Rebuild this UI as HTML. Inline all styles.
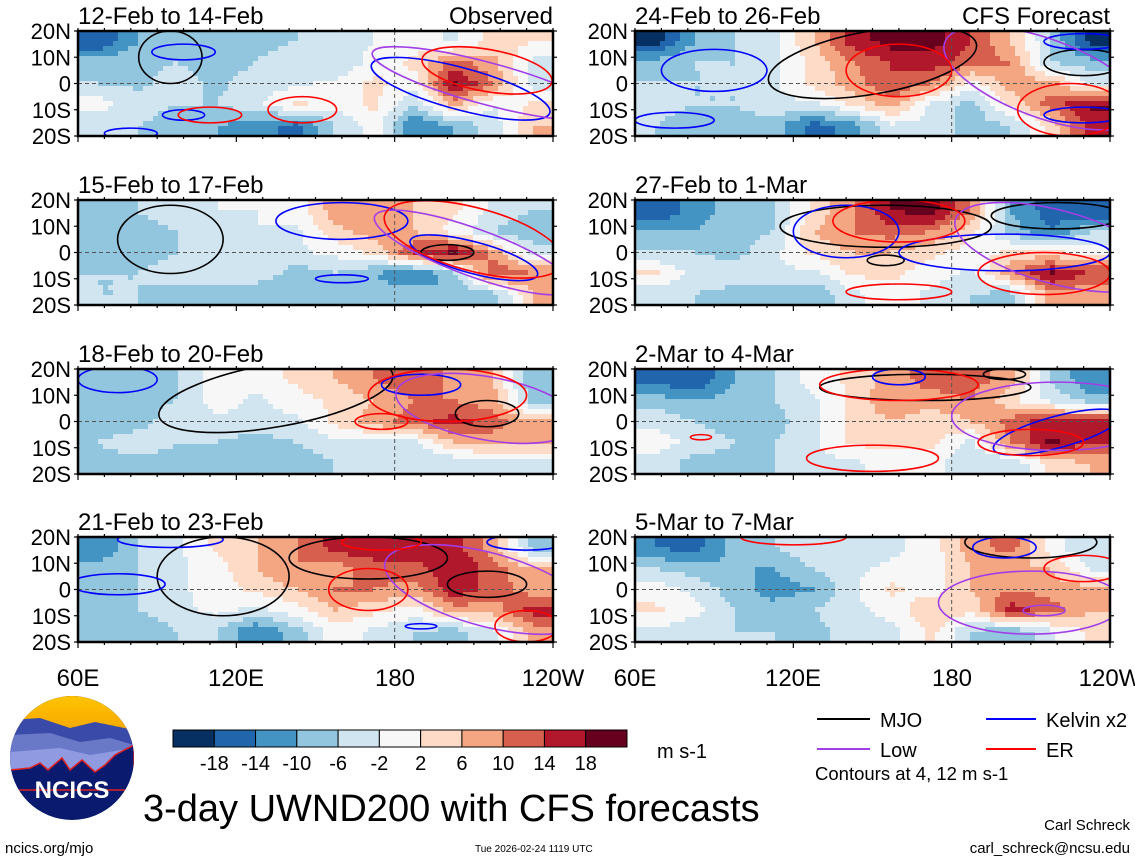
<!DOCTYPE html>
<html><head><meta charset="utf-8"><style>
html,body{margin:0;padding:0;background:#fff;}
svg{display:block;font-family:"Liberation Sans",sans-serif;}
</style></head><body>
<svg id="chart" width="1135" height="860" viewBox="0 0 1135 860">
<defs>
  <clipPath id="logoclip"><circle cx="72" cy="758" r="62"/></clipPath>
  <linearGradient id="sky" x1="0" y1="0" x2="0" y2="1"><stop offset="0" stop-color="#ffc400"/><stop offset="1" stop-color="#f5a000"/></linearGradient>
</defs>
<g id="panels"></g>
<g id="bottom">
  <text x="78" y="686" font-size="24" text-anchor="middle">60E</text>
  <text x="236" y="686" font-size="24" text-anchor="middle">120E</text>
  <text x="395" y="686" font-size="24" text-anchor="middle">180</text>
  <text x="553" y="686" font-size="24" text-anchor="middle">120W</text>
  <text x="635" y="686" font-size="24" text-anchor="middle">60E</text>
  <text x="793" y="686" font-size="24" text-anchor="middle">120E</text>
  <text x="952" y="686" font-size="24" text-anchor="middle">180</text>
  <text x="1110" y="686" font-size="24" text-anchor="middle">120W</text>
  <g id="cbar"></g>
  <text x="657" y="758" font-size="20">m s-1</text>
  <g>
    <line x1="817" y1="719" x2="870" y2="719" stroke="#000" stroke-width="2"/>
    <text x="880" y="727" font-size="20">MJO</text>
    <line x1="817" y1="749" x2="870" y2="749" stroke="#a23ee8" stroke-width="2"/>
    <text x="880" y="757" font-size="20">Low</text>
    <line x1="986" y1="719" x2="1036" y2="719" stroke="#0000ff" stroke-width="2"/>
    <text x="1046" y="727" font-size="20">Kelvin x2</text>
    <line x1="986" y1="749" x2="1036" y2="749" stroke="#ff0000" stroke-width="2"/>
    <text x="1046" y="757" font-size="20">ER</text>
  </g>
  <text x="815" y="780" font-size="18.5">Contours at 4, 12 m s-1</text>
  <text x="143" y="821" font-size="38">3-day UWND200 with CFS forecasts</text>
  <text x="5" y="853" font-size="15">ncics.org/mjo</text>
  <text x="475" y="852" font-size="10">Tue 2026-02-24 1119 UTC</text>
  <text x="1130" y="830" font-size="15" text-anchor="end">Carl Schreck</text>
  <text x="1130" y="853" font-size="15" text-anchor="end">carl_schreck@ncsu.edu</text>
  <g>
    <g clip-path="url(#logoclip)">
      <rect x="10" y="696" width="124" height="124" fill="#0a1a6e"/>
      <rect x="10" y="696" width="124" height="45" fill="url(#sky)"/>
      <path d="M10 720 L40 718 L70 728 L95 722 L134 730 L134 760 L10 760Z" fill="#3a4aa8"/>
      <path d="M10 735 L50 733 L80 742 L110 738 L134 745 L134 770 L10 770Z" fill="#6a78c8"/>
      <path d="M10 752 L60 748 L90 755 L134 748 L134 775 L10 775Z" fill="#8f9ae0"/>
      <path d="M10 770 L30 768 L40 763 L48 770 L62 758 L70 770 L82 760 L95 772 L105 765 L115 755 L134 745 L134 790 L10 790Z" fill="#0a1a6e" stroke="#e02020" stroke-width="1.5"/>
    </g>
    <text x="72" y="798" font-size="24" font-weight="bold" fill="#fff" text-anchor="middle">NCICS</text>
  </g>
</g>
</svg>
<script>
// Data: 5 lat bands (16N,8N,0,8S,16S) x 12 lon bins (60E..120W, 15 deg each)
const latCenters=[16,8,0,-8,-16];
const lonCenters=[67.5,82.5,97.5,112.5,127.5,142.5,157.5,172.5,187.5,202.5,217.5,232.5];
const panelTitles=["12-Feb to 14-Feb","15-Feb to 17-Feb","18-Feb to 20-Feb","21-Feb to 23-Feb","24-Feb to 26-Feb","27-Feb to 1-Mar","2-Mar to 4-Mar","5-Mar to 7-Mar"];
const u1=[[-18,-10,-8,-6,-7,-6,-4,-2,0,-3,4,2],[-8,-7,-6,-8,-6,-4,-6,0,3,12,7,-3],[-6,-7,-4,-7,-4,-3,-1,3,0,19,10,-4],[0,-4,-6,-6,-3,3,0,3,-6,8,-2,3],[-6,-6,-8,-10,-12,-16,-6,0,-14,-10,-4,6]];
const u2=[[-8,-6,-3,-2,-2,0,8,10,6,3,-3,-6],[-10,-8,-6,-3,-2,-3,5,8,6,0,-6,-10],[-10,-8,-6,-3,-2,-3,-1,3,14,19,8,-3],[-6,-6,-4,-3,-3,-8,-6,-10,-14,-8,14,10],[-6,-6,-8,-8,-10,-10,-8,-8,-8,-10,-8,6]];
const u3=[[-8,-8,-6,0,0,3,6,10,14,8,6,-10],[-10,-8,-6,0,-3,0,3,6,10,10,8,-8],[-10,-8,-3,-3,-3,-3,3,8,12,16,12,6],[-6,-3,-6,-6,-8,-6,-3,-3,-3,6,8,8],[-8,-8,-8,-6,-10,-10,-6,-4,-6,-6,-3,-6]];
const u4=[[-14,-6,-3,3,6,10,16,17,18,16,8,-8],[-8,-6,-3,0,6,10,8,12,12,18,12,6],[-8,-6,-3,0,3,6,10,10,8,17,12,8],[-6,-6,-3,-1,-3,0,6,3,0,8,8,16],[-10,-10,-6,-6,-14,-8,0,-3,-6,-8,-3,8]];
const u5=[[-20,-10,-6,-3,6,16,20,20,14,6,-6,-20],[-8,-6,-6,-3,3,10,14,16,12,10,-6,-8],[-6,-6,-6,-3,3,8,14,10,0,8,8,-3],[-3,-6,-6,-3,-3,3,8,-3,-8,3,12,19],[-6,-10,-8,-8,-16,-12,-3,-3,-8,-6,3,16]];
const u6=[[-18,-12,-8,-6,3,10,18,20,10,-10,-16,-18],[-10,-10,-8,-6,6,10,12,10,3,-8,-14,-6],[-6,-6,-8,-3,3,6,6,3,0,3,3,0],[3,-3,-3,-3,-3,3,3,0,-3,10,19,14],[-6,-6,-8,-8,-10,-3,0,-3,-6,-8,8,6]];
const u7=[[-16,-18,-10,-6,0,3,8,12,12,8,-6,-14],[-8,-10,-8,-6,-3,3,10,8,10,3,-3,-8],[-3,-6,-8,-8,-3,3,6,3,6,12,16,16],[0,-3,-6,-6,-3,3,3,3,-3,10,19,14],[-3,-8,-8,-6,-3,-3,0,0,-6,-6,3,6]];
const u8=[[-14,-16,-8,-6,-3,-6,-3,0,8,12,0,-6],[-6,-8,-10,-10,-6,-3,-1,0,6,6,6,-3],[0,-3,-8,-12,-10,-3,3,0,6,10,8,8],[3,0,-6,-8,-6,-3,-1,6,3,16,12,6],[-3,-6,-6,-6,-8,-3,-3,3,-6,-10,-3,3]];
const fields=[u1,u2,u3,u4,u5,u6,u7,u8];
// contour ellipses: [lon, lat, rxDeg, ryDeg, rotDeg]
const mjo=[[[95,10,12,10,0]],[[95,5,20,13,0],[200,0,10,3,0]],[[135,10,45,12,-10],[215,3,12,5,0]],[[115,5,25,15,0],[170,12,30,8,0],[215,2,15,5,0]],[[150,8,40,12,-10],[230,8,15,5,0]],[[155,10,40,8,0],[220,14,25,5,0],[155,-3,7,2,0]],[[170,13,40,5,0],[200,18,8,2,0]],[[210,18,25,6,0]]];
const kelvin=[[[100,12,12,3,0],[205,-2,35,8,15],[100,-12,8,2,0],[80,-19,10,2,0]],[[160,12,25,7,0],[210,-2,25,6,15],[160,-10,10,1.5,0]],[[75,16,15,5,0],[190,14,15,4,0]],[[75,2,18,4,0],[95,19,20,3,0],[230,18,15,3,0],[190,-14,6,1,0]],[[90,5,20,8,0],[75,-14,15,3,0],[230,16,15,3,0],[230,-12,15,3,0]],[[140,8,20,10,0],[200,0,40,7,0]],[[160,17,10,3,0],[220,-4,25,6,-15]],[[200,16,12,4,0]]];
const er=[[[215,5,25,8,10],[110,-12,12,3,0],[145,-10,13,5,0]],[[210,5,35,12,15]],[[175,0,10,3,0],[200,10,30,10,0]],[[170,0,15,8,0],[175,18,15,3,0],[230,-14,12,6,0]],[[160,5,20,10,0],[225,-10,20,10,0]],[[160,12,25,8,0],[215,-8,25,8,0],[160,-15,20,3,0]],[[160,14,30,6,0],[150,-14,25,5,0],[210,-8,20,5,0],[85,-6,4,1,0]],[[230,8,15,5,0],[120,20,20,3,0]]];
const low=[[[215,0,45,8,15]],[[210,0,40,9,20]],[[215,5,35,12,10]],[[215,0,40,14,15]],[[215,2,40,15,20]],[[220,2,40,14,15]],[[220,2,40,13,0]],[[210,-5,35,12,0],[215,-8,8,2,0]]];
const levels=[-18,-14,-10,-6,-2,2,6,10,14,18];
const colors=["#053061","#2166ac","#4393c3","#92c5de","#d1e5f0","#f7f7f7","#fddbc7","#f4a582","#d6604d","#b2182b","#67001f"];

const NS="http://www.w3.org/2000/svg";
const PW=475,PH=105;
const origins=[[78,31],[78,200],[78,369],[78,537],[635,31],[635,200],[635,369],[635,537]];
function colorFor(v){let i=0;while(i<levels.length&&v>=levels[i])i++;return colors[i];}
function mk(tag,attrs,parent){const e=document.createElementNS(NS,tag);for(const k in attrs)e.setAttribute(k,attrs[k]);parent.appendChild(e);return e;}
function sample(f,lon,lat){
  let fi=(lon-67.5)/15, fj=(16-lat)/8;
  fi=Math.max(0,Math.min(11,fi)); fj=Math.max(0,Math.min(4,fj));
  const i0=Math.min(10,Math.floor(fi)), j0=Math.min(3,Math.floor(fj));
  const a=fi-i0,b=fj-j0;
  return f[j0][i0]*(1-a)*(1-b)+f[j0][i0+1]*a*(1-b)+f[j0+1][i0]*(1-a)*b+f[j0+1][i0+1]*a*b;
}
const root=document.getElementById('panels');
const defs=document.querySelector('#chart defs');
fields.forEach((f,p)=>{
  const [x0,y0]=origins[p];
  const X=lon=>x0+(lon-60)/180*PW;
  const Y=lat=>y0+(20-lat)/40*PH;
  const g=mk('g',{},root);
  
  
  const cp=mk('clipPath',{id:'cp'+p},defs);
  mk('rect',{x:x0,y:y0,width:PW,height:PH},cp);
  const heat=mk('g',{'clip-path':'url(#cp'+p+')'},g);
  
  
  const cw=5,ch=5;
  for(let yy=0;yy<PH;yy+=ch){for(let xx=0;xx<PW;xx+=cw){
    const lon=60+(xx+cw/2)/PW*180, lat=20-(yy+ch/2)/PH*40;
    const c=mk('rect',{x:x0+xx,y:y0+yy,width:cw+0.5,height:ch+0.5,fill:colorFor(sample(f,lon,lat))},heat);
    
    
  }}
  const eq=mk('line',{x1:x0,x2:x0+PW,y1:Y(0),y2:Y(0),stroke:'#555','stroke-dasharray':'4,3','stroke-width':1},g);
  
  
  const dl=mk('line',{x1:X(180),x2:X(180),y1:y0,y2:y0+PH,stroke:'#555','stroke-dasharray':'4,3','stroke-width':1},g);
  
  
  const cg=mk('g',{'clip-path':'url(#cp'+p+')',fill:'none','stroke-width':1.6},g);
  [[mjo,'#000','mjo-contour'],[kelvin,'#0000ff','kelvin-contour'],[low,'#a23ee8','low-contour'],[er,'#ff0000','er-contour']].forEach(([arr,col,nm])=>{
    arr[p].forEach(e=>{
      const el=mk('ellipse',{cx:X(e[0]),cy:Y(e[1]),rx:e[2]/180*PW,ry:e[3]/40*PH,stroke:col,transform:'rotate('+e[4]+' '+X(e[0])+' '+Y(e[1])+')'},cg);
      
      
    });
  });
  const fr=mk('rect',{x:x0,y:y0,width:PW,height:PH,fill:'none',stroke:'#000','stroke-width':2.5},g);
  
  
  for(let lon=60;lon<=240;lon+=10){const major=(lon-60)%60===0;
    mk('line',{x1:X(lon),x2:X(lon),y1:y0+PH,y2:y0+PH+(major?6:3),stroke:'#000','stroke-width':1.2},g);
    mk('line',{x1:X(lon),x2:X(lon),y1:y0,y2:y0-3,stroke:'#000','stroke-width':1.2},g);}
  for(let lat=-20;lat<=20;lat+=10){
    mk('line',{x1:x0,x2:x0-4,y1:Y(lat),y2:Y(lat),stroke:'#000','stroke-width':1.2},g);
    mk('line',{x1:x0+PW,x2:x0+PW+4,y1:Y(lat),y2:Y(lat),stroke:'#000','stroke-width':1.2},g);}
  ['20N','10N','0','10S','20S'].forEach((t,k)=>{
    const tx=mk('text',{x:x0-7,y:Y(20-k*10)+8,'font-size':22,'text-anchor':'end'},g);
    tx.textContent=t;
    
    
  });
  const tt=mk('text',{x:x0,y:y0-7,'font-size':24},g);
  tt.textContent=panelTitles[p];
  
  
  if(p===0||p===4){
    const rt=mk('text',{x:x0+PW,y:y0-7,'font-size':24,'text-anchor':'end'},g);
    rt.textContent=p===0?'Observed':'CFS Forecast';
    
    
  }
});
const cb=document.getElementById('cbar');
const bw=(627-173)/colors.length;
colors.forEach((c,i)=>{
  const r=mk('rect',{x:173+i*bw,y:730,width:bw,height:17,fill:c,stroke:'#000','stroke-width':1},cb);
  
  
});
levels.forEach((l,i)=>{
  const t=mk('text',{x:173+(i+1)*bw,y:770,'font-size':20,'text-anchor':'middle'},cb);
  t.textContent=l;
  
  
});
</script>
</body></html>
